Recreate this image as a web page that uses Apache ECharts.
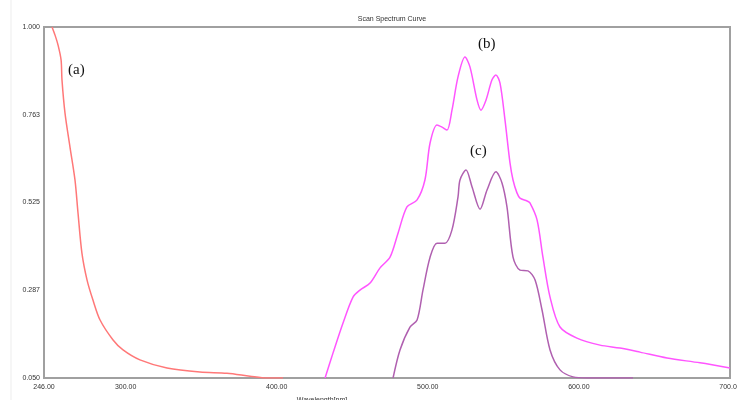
<!DOCTYPE html>
<html lang="en">
<head>
    <meta charset="UTF-8">
    <title>Scan Spectrum Curve</title>
    <script src="https://cdn.jsdelivr.net/npm/echarts@6/dist/echarts.min.js"></script>
</head>
<body style="margin:0;background:#fff;">
<div id="chartmain" style="width:737px; height:400px;"></div>
</body>
<script type="text/javascript">

    // wavelength (nm) / absorbance pairs
    var curveA = [
        [251.3,1.000],[253.3,0.978],[255.3,0.951],[257.3,0.911],[257.9,0.857],[259.9,0.767],
        [263.2,0.675],[266.5,0.586],[268.5,0.497],[271.1,0.388],[274.5,0.315],[278.4,0.261],
        [283.1,0.207],[291.7,0.153],[298.3,0.126],[309.5,0.099],[327.4,0.077],[349.2,0.066],
        [367.1,0.063],[382.3,0.055],[393.6,0.050],[404.2,0.050]
    ];
    var curveB = [
        [432.0,0.050],[437.3,0.118],[443.9,0.199],[450.5,0.269],[455.1,0.288],[461.8,0.307],
        [468.4,0.348],[475.0,0.377],[480.3,0.442],[486.2,0.513],[492.9,0.532],[498.1,0.586],
        [501.5,0.686],[506.1,0.735],[509.4,0.729],[512.7,0.721],[516.0,0.775],[520.0,0.865],
        [524.6,0.919],[527.9,0.892],[532.6,0.802],[535.2,0.775],[538.5,0.802],[542.5,0.857],
        [545.1,0.870],[547.8,0.848],[551.1,0.748],[554.4,0.632],[556.4,0.586],[559.0,0.551],
        [561.0,0.537],[565.7,0.529],[567.6,0.524],[572.3,0.478],[576.2,0.377],[580.9,0.269],
        [587.5,0.188],[598.7,0.158],[614.0,0.139],[627.2,0.131],[640.4,0.120],[658.3,0.104],
        [680.2,0.091],[700.0,0.077]
    ];
    var curveC = [
        [477.0,0.050],[481.6,0.126],[488.2,0.188],[492.9,0.207],[496.8,0.288],[501.5,0.377],
        [506.1,0.415],[511.4,0.415],[516.0,0.451],[520.0,0.540],[521.3,0.586],[525.3,0.613],
        [529.3,0.567],[534.6,0.507],[539.2,0.559],[545.1,0.608],[549.1,0.578],[552.4,0.513],
        [556.4,0.377],[561.0,0.342],[566.3,0.340],[571.0,0.315],[575.6,0.234],[580.9,0.126],
        [587.5,0.072],[596.1,0.053],[605.4,0.050],[635.8,0.050]
    ];
    var xTicks = [246, 300, 400, 500, 600, 700];
    var yTickLabels = ['0.050', '0.287', '0.525', '0.763', '1.000'];

    function jiazai(){
        var option = {
            backgroundColor: '#fff',
            animation: false,
            title: {
                text: 'Scan Spectrum Curve',
                left: 387, top: 11, textAlign: 'center',
                textStyle: {fontSize: 7, fontWeight: 'normal', color: '#333', fontFamily: 'Liberation Sans'}
            },
            grid: {
                left: 44, right: 7, top: 27, bottom: 22,
                outerBoundsMode: 'none',
                show: true, borderColor: '#a0a0a0', borderWidth: 2
            },
            xAxis: {
                type: 'value', min: 246, max: 700,
                name: 'Wavelength[nm]', nameLocation: 'middle', nameGap: 19,
                nameTextStyle: {fontSize: 7, color: '#333', fontFamily: 'Liberation Sans', padding: [0, 0, 0, -130]},
                axisLine: {lineStyle: {color: '#a0a0a0', width: 2}},
                axisTick: {show: false},
                splitLine: {show: false},
                axisLabel: {
                    customValues: xTicks,
                    fontSize: 7, color: '#333', margin: 6, fontFamily: 'Liberation Sans',
                    formatter: function (v) { return v.toFixed(2); }
                }
            },
            yAxis: {
                type: 'value', min: 0.05, max: 1, interval: 0.2375,
                axisLine: {show: true, lineStyle: {color: '#a0a0a0', width: 2}},
                axisTick: {show: false},
                splitLine: {show: false},
                axisLabel: {
                    fontSize: 7, color: '#333', margin: 4, fontFamily: 'Liberation Sans',
                    formatter: function (v, i) { return yTickLabels[i]; }
                }
            },
            series: [
                {name: '(a)', type: 'line', data: curveA, smooth: 0.3, showSymbol: false,
                    lineStyle: {color: '#ff7878', width: 1.5}},
                {name: '(b)', type: 'line', data: curveB, smooth: 0.3, showSymbol: false,
                    lineStyle: {color: '#ff55ff', width: 1.5}},
                {name: '(c)', type: 'line', data: curveC, smooth: 0.3, showSymbol: false,
                    lineStyle: {color: '#b060b0', width: 1.5}}
            ],
            graphic: [
                {type: 'line', shape: {x1: 11, y1: 0, x2: 11, y2: 400}, style: {stroke: '#ededed', lineWidth: 1}},
                {type: 'text', left: 68, top: 63, style: {text: '(a)', font: '15px "Liberation Serif"', fill: '#111'}},
                {type: 'text', left: 478, top: 37, style: {text: '(b)', font: '15px "Liberation Serif"', fill: '#111'}},
                {type: 'text', left: 470, top: 144, style: {text: '(c)', font: '15px "Liberation Serif"', fill: '#111'}}
            ]
        };
        var myChart = echarts.init(document.getElementById('chartmain'));
        myChart.setOption(option);
    }

    jiazai();
</script>
</html>
